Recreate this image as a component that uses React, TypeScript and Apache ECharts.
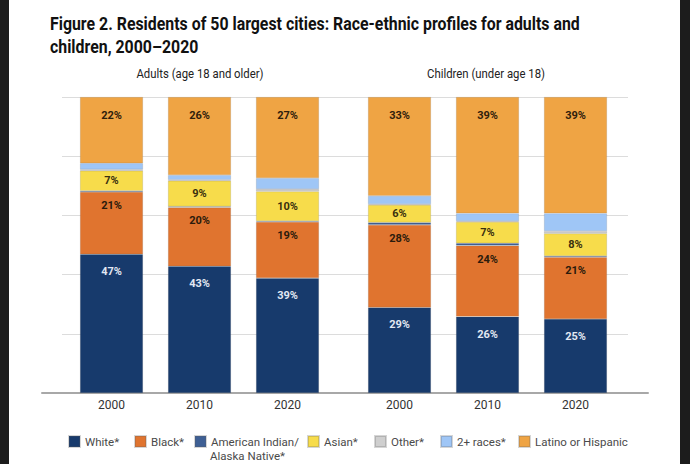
import React, { useEffect, useRef } from 'react';
import * as echarts from 'echarts';

// Census years shown under each bar
const years = ['2000', '2010', '2020'];

// Group headings and title
const titleLines = [
  'Figure 2. Residents of 50 largest cities: Race-ethnic profiles for adults and',
  'children, 2000\u20132020',
];
const groupTitles = ['Adults (age 18 and older)', 'Children (under age 18)'];

// Race-ethnic groups (stack order, bottom to top)
const groupNames = [
  'White*',
  'Black*',
  'American Indian/Alaska Native*',
  'Asian*',
  'Other*',
  '2+ races*',
  'Latino or Hispanic',
];

// Adults, percent of residents
const adultsWhite = [46.9, 42.8, 38.8];
const adultsBlack = [21.0, 19.9, 19.0];
const adultsAIAN = [0.4, 0.3, 0.3];
const adultsAsian = [6.8, 8.7, 10.0];
const adultsOther = [0.4, 0.3, 0.8];
const adultsMulti = [2.1, 1.6, 3.7];
const adultsLatino = [22.4, 26.4, 27.4];

// Children, percent of residents
const childrenWhite = [28.9, 25.8, 25.0];
const childrenBlack = [27.9, 24.0, 20.9];
const childrenAIAN = [0.8, 0.8, 0.4];
const childrenAsian = [5.9, 7.2, 7.6];
const childrenOther = [0.3, 0.3, 0.8];
const childrenMulti = [2.8, 2.6, 6.0];
const childrenLatino = [33.4, 39.3, 39.3];

const adultsData = [adultsWhite, adultsBlack, adultsAIAN, adultsAsian, adultsOther, adultsMulti, adultsLatino];
const childrenData = [childrenWhite, childrenBlack, childrenAIAN, childrenAsian, childrenOther, childrenMulti, childrenLatino];

const colors = ['#173a6c', '#e0742f', '#3e5f94', '#f7dc4b', '#cfcfcf', '#9fc6f6', '#efa444'];

const FONT = 'Roboto, "Noto Sans", sans-serif';
const W = 690;
const H = 464;

function textWidth(text: string, font: string): number {
  const ctx = document.createElement('canvas').getContext('2d');
  if (!ctx) return text.length * 7;
  ctx.font = font;
  return ctx.measureText(text).width;
}

// Label placement per group: only the four large groups carry value labels
function labelFor(i: number) {
  const base = {
    show: true,
    fontFamily: FONT,
    fontSize: 11,
    fontWeight: 'bold' as const,
    formatter: (p: any) => Math.round(p.value) + '%',
  };
  if (i === 0) return { ...base, position: 'insideTop', distance: 12, color: '#e2e8f3' };
  if (i === 1) return { ...base, position: 'insideTop', distance: 8, color: '#2b1b0c' };
  if (i === 3) return { ...base, position: 'inside', color: '#3a300f' };
  if (i === 6) return { ...base, position: 'insideTop', distance: 13, color: '#2f200c' };
  return { show: false };
}

export default function App() {
  const ref = useRef<HTMLDivElement>(null);

  useEffect(() => {
    if (!ref.current) return;
    const chart = echarts.init(ref.current, null, { renderer: 'svg' });

    const titleFont = `bold 18px ${FONT}`;
    const titleScale = 530 / textWidth(titleLines[0], titleFont);
    const subFont = `12px ${FONT}`;
    const subScale = 118 / textWidth(groupTitles[1], subFont);

    const series: any[] = [];
    groupNames.forEach((name, i) => {
      [adultsData, childrenData].forEach((data, g) => {
        series.push({
          type: 'bar',
          name,
          stack: g === 0 ? 'adults' : 'children',
          xAxisIndex: 2 + g,
          yAxisIndex: 2 + g,
          barWidth: 63,
          data: data[i],
          itemStyle: {
            color: colors[i],
            borderColor: 'rgba(90,90,90,0.25)',
            borderWidth: 0.6,
          },
          label: labelFor(i),
        });
      });
    });

    // One legend per entry so each item sits at its own position
    const legendLeft = [68, 134, 194, 307, 374, 440, 518];
    const legends = groupNames.map((name, i) => ({
      data: [name],
      left: legendLeft[i],
      top: 435,
      padding: 0,
      itemWidth: 11,
      itemHeight: 11,
      icon: 'rect',
      selectedMode: false,
      textStyle: { fontFamily: FONT, fontSize: 11.5, color: '#4a4a4a' },
      formatter: (n: string) => (n === groupNames[2] ? 'American Indian/' : n),
    }));

    const hiddenValue = { type: 'value', show: false, min: 0, max: 100 };

    chart.setOption({
      animation: false,
      color: colors,
      backgroundColor: '#ffffff',
      grid: [
        { left: 42, right: W - 648, top: 97, bottom: H - 393 },
        { left: 62, right: W - 628, top: 97, bottom: H - 393 },
        { left: 67.5, width: 264, top: 97, bottom: H - 393 },
        { left: 355.5, width: 264, top: 97, bottom: H - 393 },
      ],
      xAxis: [
        {
          gridIndex: 0,
          type: 'value',
          min: 0,
          max: 1,
          axisLine: { show: true, onZero: false, lineStyle: { color: '#a8a8a8', width: 2 } },
          axisTick: { show: false },
          axisLabel: { show: false },
          splitLine: { show: false },
        },
        { gridIndex: 1, type: 'value', show: false, min: 0, max: 1 },
        ...[2, 3].map((gi) => ({
          gridIndex: gi,
          type: 'category',
          data: years,
          axisLine: { show: false },
          axisTick: { show: false },
          axisLabel: { margin: 6, fontFamily: FONT, fontSize: 12, color: '#333' },
        })),
      ],
      yAxis: [
        { gridIndex: 0, ...hiddenValue },
        {
          gridIndex: 1,
          type: 'value',
          min: 0,
          max: 100,
          interval: 20,
          axisLine: { show: false },
          axisTick: { show: false },
          axisLabel: { show: false },
          splitLine: { show: true, lineStyle: { color: '#dcdcdc', width: 1 } },
        },
        { gridIndex: 2, ...hiddenValue },
        { gridIndex: 3, ...hiddenValue },
      ],
      legend: legends,
      series,
      graphic: [
        { type: 'rect', shape: { x: 0, y: 0, width: 9, height: H }, style: { fill: '#1c1c1c' }, z: 100 },
        { type: 'rect', shape: { x: 680, y: 0, width: 10, height: H }, style: { fill: '#1c1c1c' }, z: 100 },
        ...titleLines.map((t, i) => ({
          type: 'text',
          x: 50,
          y: 24 + i * 23,
          scaleX: titleScale,
          style: {
            text: t,
            fontFamily: FONT,
            fontSize: 18,
            fontWeight: 'bold',
            fill: '#111111',
            textAlign: 'left',
            textVerticalAlign: 'middle',
          },
        })),
        ...groupTitles.map((t, i) => ({
          type: 'text',
          x: i === 0 ? 200 : 486,
          y: 74,
          scaleX: subScale,
          style: {
            text: t,
            fontFamily: FONT,
            fontSize: 12,
            fill: '#222222',
            textAlign: 'center',
            textVerticalAlign: 'middle',
          },
        })),
        {
          type: 'text',
          x: 210,
          y: 456,
          style: {
            text: 'Alaska Native*',
            fontFamily: FONT,
            fontSize: 11.5,
            fill: '#4a4a4a',
            textAlign: 'left',
            textVerticalAlign: 'middle',
          },
        },
      ],
    });

    return () => chart.dispose();
  }, []);

  return (
    <div
      ref={ref}
      style={{ position: 'fixed', left: 0, top: 0, width: W, height: H, background: '#fff' }}
    />
  );
}
